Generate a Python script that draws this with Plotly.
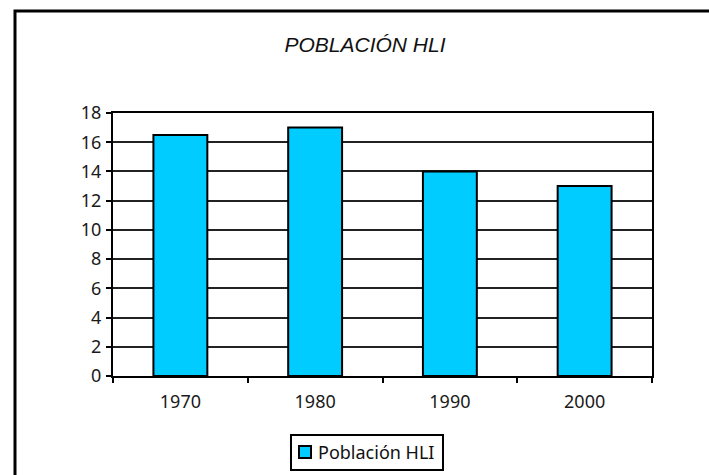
import plotly.graph_objects as go

categories = ["1970", "1980", "1990", "2000"]
values = [16.5, 17.0, 14.0, 13.0]
series_name = "Población HLI"
title_text = "POBLACIÓN HLI"
y_ticks = list(range(0, 19, 2))
bar_color = "#00CCFF"

W, H = 709, 475
L, R, T, B = 113, 57, 113, 99
pw, ph = W - L - R, H - T - B


def px(x):
    return (x - L) / pw


def py(y):
    return (H - B - y) / ph


fig = go.Figure()
fig.add_trace(go.Bar(
    x=categories, y=values, name=series_name,
    marker=dict(color=bar_color, line=dict(color="#000000", width=2)),
    width=0.4, showlegend=False, hoverinfo="skip",
))

axis_font = dict(family="Noto Sans", size=18, color="#1a1a1a")

fig.update_layout(
    width=W, height=H,
    margin=dict(l=L, r=R, t=T, b=B, autoexpand=False),
    paper_bgcolor="white", plot_bgcolor="white",
    title=dict(text=title_text, x=365 / W, xanchor="center",
               y=1 - 45 / H, yanchor="middle", yref="container",
               font=dict(family="Liberation Sans", size=21, color="#111111", style="italic")),
    xaxis=dict(type="category", showline=True, linecolor="black", linewidth=2,
               mirror=True, ticks="outside", tickson="boundaries", ticklen=5,
               tickcolor="black", tickwidth=2, showgrid=False, tickfont=axis_font,
               ticklabelstandoff=8),
    yaxis=dict(range=[0, 18], tickvals=y_ticks, showline=True, linecolor="black",
               linewidth=2, mirror=True, ticks="outside", ticklen=5, tickcolor="black",
               tickwidth=2, showgrid=True, gridcolor="#222222", gridwidth=2,
               zeroline=False, tickfont=axis_font, ticklabelstandoff=1),
    shapes=[
        dict(type="rect", xref="paper", yref="paper",
             x0=px(15), x1=px(W + 20), y0=py(H + 20), y1=py(11),
             line=dict(color="black", width=3), fillcolor="rgba(0,0,0,0)",
             layer="below"),
        dict(type="rect", xref="paper", yref="paper",
             x0=px(291), x1=px(443), y0=py(470), y1=py(435),
             line=dict(color="black", width=2), fillcolor="white"),
        dict(type="rect", xref="paper", yref="paper",
             x0=px(299), x1=px(311), y0=py(458), y1=py(446),
             line=dict(color="black", width=2), fillcolor=bar_color),
    ],
    annotations=[dict(text=series_name, xref="paper", yref="paper",
                      x=px(316), y=py(452), xanchor="left", yanchor="middle",
                      showarrow=False,
                      font=dict(family="Noto Sans", size=18, color="#111111"))],
)

fig.write_html("out.html", config={"displayModeBar": False},
               post_script="document.body.style.margin='0';")
